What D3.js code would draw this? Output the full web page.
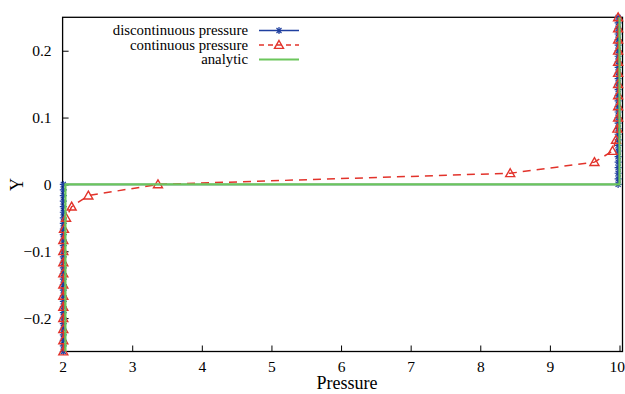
<!DOCTYPE html>
<html>
<head>
<meta charset="utf-8">
<script src="https://cdn.jsdelivr.net/npm/d3@7"></script>
<style>
  body { margin: 0; background: #fff; }
</style>
</head>
<body>
<div id="chart"></div>
<script>
// discontinuous pressure
const discX = [
  2.01, 2.01, 2.01, 2.01, 2.01, 2.01, 2.01, 2.01, 2.01, 2.01, 2.01, 2.01, 2.01, 2.01, 2.01, 2.01,
  2.01, 2.01, 2.01, 2.01, 2.01, 2.01, 2.01, 2.01, 2.01, 2.01, 2.01, 2.01, 2.01, 2.01, 2.01,
  9.98, 9.98, 9.98, 9.98, 9.98, 9.98, 9.98, 9.98, 9.98, 9.98, 9.98, 9.98, 9.98, 9.98, 9.98, 9.98,
  9.98, 9.98, 9.98, 9.98, 9.98, 9.98, 9.98, 9.98, 9.98, 9.98, 9.98, 9.98, 9.98, 9.98, 9.98
];
const discY = [
  -0.25, -0.2417, -0.2333, -0.225, -0.2167, -0.2083, -0.2, -0.1917, -0.1833, -0.175, -0.1667, -0.1583,
  -0.15, -0.1417, -0.1333, -0.125, -0.1167, -0.1083, -0.1, -0.0917, -0.0833, -0.075, -0.0667, -0.0583,
  -0.05, -0.0417, -0.0333, -0.025, -0.0167, -0.0083, 0,
  0, 0.0083, 0.0167, 0.025, 0.0333, 0.0417, 0.05, 0.0583, 0.0667, 0.075, 0.0833, 0.0917,
  0.1, 0.1083, 0.1167, 0.125, 0.1333, 0.1417, 0.15, 0.1583, 0.1667, 0.175, 0.1833, 0.1917,
  0.2, 0.2083, 0.2167, 0.225, 0.2333, 0.2417, 0.25
];

// continuous pressure
const contX = [
  2.01, 2.01, 2.01, 2.01, 2.01, 2.01, 2.01, 2.01, 2.01, 2.01, 2.01, 2.02,
  2.05, 2.13, 2.37, 3.37, 8.43, 9.64, 9.9, 9.95, 9.97,
  9.98, 9.98, 9.98, 9.98, 9.98, 9.98, 9.98, 9.98, 9.98, 9.98
];
const contY = [
  -0.25, -0.2333, -0.2167, -0.2, -0.1833, -0.1667, -0.15, -0.1333, -0.1167, -0.1, -0.0833, -0.0667,
  -0.05, -0.0333, -0.0167, 0, 0.0167, 0.0333, 0.05, 0.0667, 0.0833,
  0.1, 0.1167, 0.1333, 0.15, 0.1667, 0.1833, 0.2, 0.2167, 0.2333, 0.25
];

// analytic
const anaX = [2.04, 2.04, 10, 10];
const anaY = [-0.25, 0, 0, 0.25];

const xTicks = [2, 3, 4, 5, 6, 7, 8, 9, 10];
const yTicks = [-0.2, -0.1, 0, 0.1, 0.2];
const seriesNames = ['discontinuous pressure', 'continuous pressure', 'analytic'];

const W = 625, H = 394;
const margin = { top: 17.3, right: 2.5, bottom: 42.5, left: 62.6 };
const width = W - margin.left - margin.right;
const height = H - margin.top - margin.bottom;
const FONT = '"Liberation Serif", "Times New Roman", Times, serif';

const blue = '#1f3f9f', red = '#e2332b', green = '#6cc65c';

const svg = d3.select('#chart').append('svg')
  .attr('width', W).attr('height', H);

const x = d3.scaleLinear().domain([2, 10.043]).range([margin.left, margin.left + width]);
const y = d3.scaleLinear().domain([-0.25, 0.25]).range([margin.top + height, margin.top]);

const fmtY = d => d === 0 ? '0' : d3.format('.1f')(d).replace('-', '\u2212');

// axes with inward ticks
svg.append('g')
  .attr('transform', `translate(0,${margin.top + height})`)
  .call(d3.axisBottom(x).tickValues(xTicks).tickSize(-6).tickPadding(9).tickFormat(d3.format('d')))
  .call(g => g.select('.domain').remove())
  .call(g => g.attr('font-family', FONT).attr('font-size', 15.5))
  .call(g => g.selectAll('text').attr('fill', '#000'))
  .call(g => g.selectAll('text').filter(d => d === 10).attr('text-anchor', 'end').attr('dx', 5))
  .call(g => g.selectAll('line').attr('stroke', '#000'));

svg.append('g')
  .attr('transform', `translate(${margin.left},0)`)
  .call(d3.axisLeft(y).tickValues(yTicks).tickSize(-6).tickPadding(11).tickFormat(fmtY))
  .call(g => g.select('.domain').remove())
  .call(g => g.attr('font-family', FONT).attr('font-size', 15.5))
  .call(g => g.selectAll('text').attr('fill', '#000'))
  .call(g => g.selectAll('line').attr('stroke', '#000'));

svg.append('rect')
  .attr('x', margin.left).attr('y', margin.top)
  .attr('width', width).attr('height', height)
  .attr('fill', 'none').attr('stroke', '#000').attr('stroke-width', 1.3);

// axis titles
svg.append('text')
  .attr('x', 347).attr('y', 389)
  .attr('text-anchor', 'middle').attr('font-size', 18).attr('font-family', FONT)
  .text('Pressure');

svg.append('text')
  .attr('transform', `translate(23,${y(0)}) rotate(-90)`)
  .attr('text-anchor', 'middle').attr('font-size', 18).attr('font-family', FONT)
  .text('Y');

const line = d3.line().x(d => x(d[0])).y(d => y(d[1]));
const disc = discX.map((v, i) => [v, discY[i]]);
const cont = contX.map((v, i) => [v, contY[i]]);
const ana = anaX.map((v, i) => [v, anaY[i]]);

function star(g, cx, cy) {
  const r = 3.5, k = 2.5;
  g.append('path')
    .attr('d', `M${cx - r},${cy}H${cx + r}M${cx},${cy - r}V${cy + r}M${cx - k},${cy - k}L${cx + k},${cy + k}M${cx - k},${cy + k}L${cx + k},${cy - k}`)
    .attr('stroke', blue).attr('stroke-width', 1.2).attr('fill', 'none');
}
function tri(g, cx, cy) {
  const s = 4.5;
  g.append('path')
    .attr('d', `M${cx},${cy - s}L${cx + s},${cy + s * 0.75}L${cx - s},${cy + s * 0.75}Z`)
    .attr('stroke', red).attr('stroke-width', 1.4).attr('fill', 'none');
}

const plot = svg.append('g');

// discontinuous
plot.append('path').datum(disc).attr('d', line)
  .attr('fill', 'none').attr('stroke', blue).attr('stroke-width', 1.5);
const gStar = plot.append('g');
disc.forEach(d => star(gStar, x(d[0]), y(d[1])));

// continuous
plot.append('path').datum(cont).attr('d', line)
  .attr('fill', 'none').attr('stroke', red).attr('stroke-width', 1.5)
  .attr('stroke-dasharray', '8,6');
const gTri = plot.append('g');
cont.forEach(d => tri(gTri, x(d[0]), y(d[1])));

// analytic
plot.append('path').datum(ana).attr('d', line)
  .attr('fill', 'none').attr('stroke', green).attr('stroke-width', 2.2);

// legend
const legend = svg.append('g');
const rowY = [30.5, 45, 59.5];
const lx0 = 259, lx1 = 299, tx = 248;
seriesNames.forEach((name, i) => {
  legend.append('text')
    .attr('x', tx).attr('y', rowY[i] + 4.5)
    .attr('text-anchor', 'end').attr('font-size', 14.8).attr('font-family', FONT)
    .text(name);
});
legend.append('line').attr('x1', lx0).attr('x2', lx1).attr('y1', rowY[0]).attr('y2', rowY[0])
  .attr('stroke', blue).attr('stroke-width', 1.5);
star(legend, (lx0 + lx1) / 2, rowY[0]);
legend.append('line').attr('x1', lx0).attr('x2', lx1).attr('y1', rowY[1]).attr('y2', rowY[1])
  .attr('stroke', red).attr('stroke-width', 1.5).attr('stroke-dasharray', '5,4');
tri(legend, (lx0 + lx1) / 2, rowY[1]);
legend.append('line').attr('x1', lx0).attr('x2', lx1).attr('y1', rowY[2]).attr('y2', rowY[2])
  .attr('stroke', green).attr('stroke-width', 2.2);
</script>
</body>
</html>
